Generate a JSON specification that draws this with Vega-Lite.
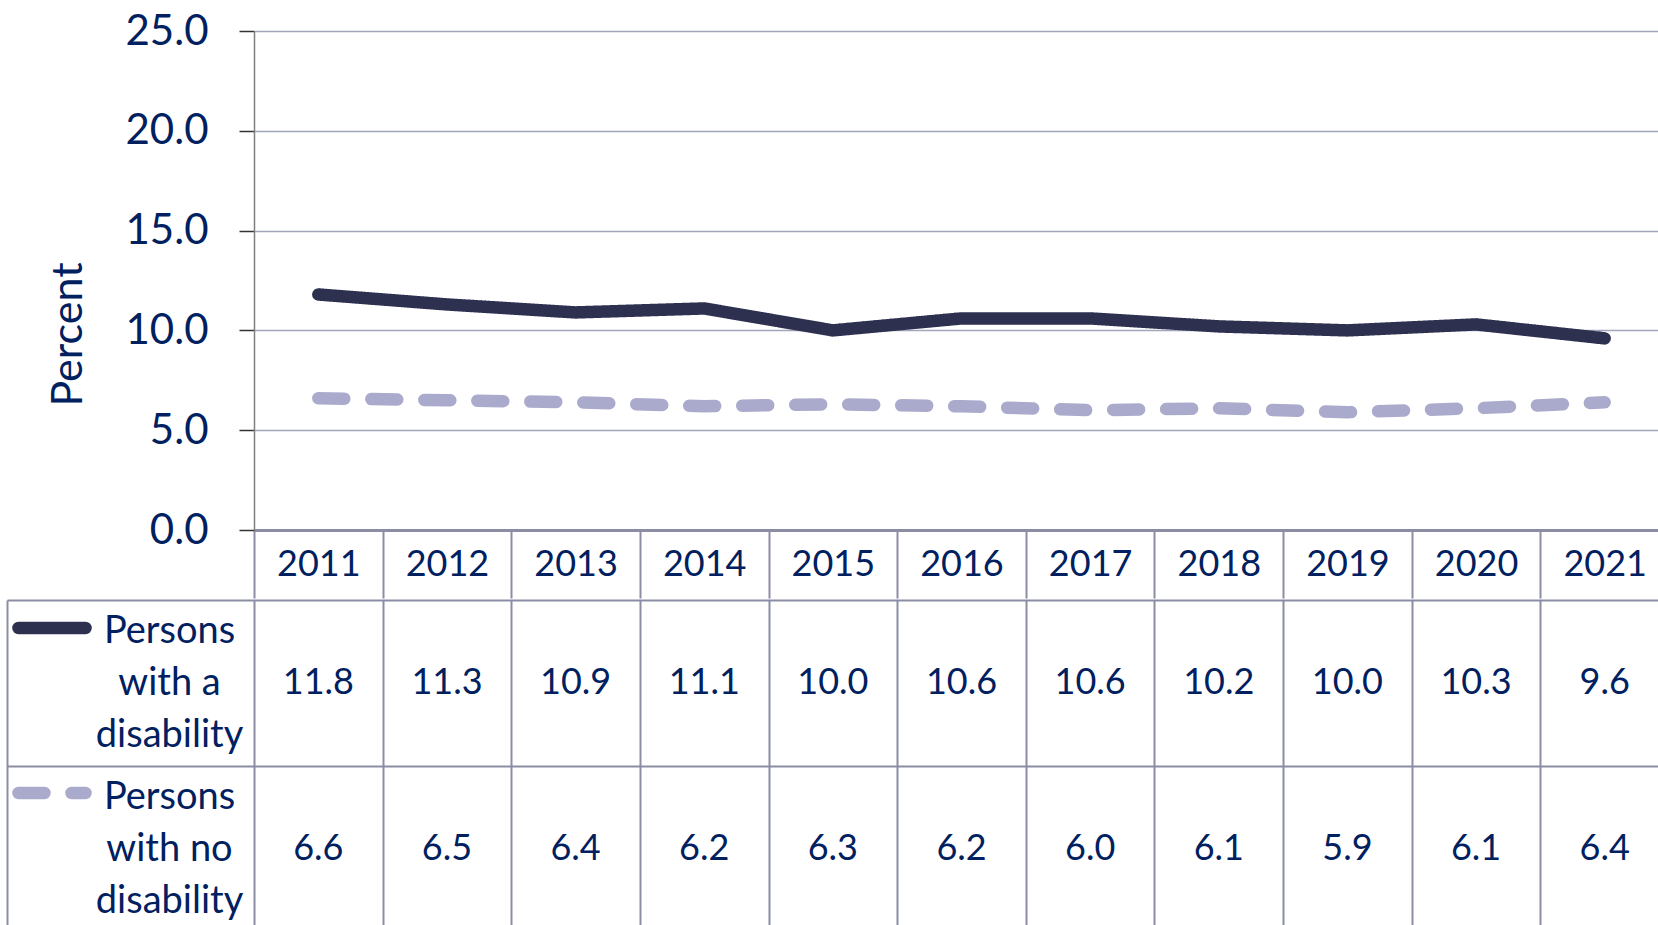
{
  "$schema": "https://vega.github.io/schema/vega-lite/v6.json",
  "padding": {"left": 6, "top": 10, "right": 0, "bottom": 0},
  "background": "white",
  "config": {"view": {"stroke": null}, "font": "Lato"},
  "spacing": 0,
  "datasets": {
    "rates": [
      {"year": 2011, "series": "Persons with a disability", "value": 11.8},
      {"year": 2012, "series": "Persons with a disability", "value": 11.3},
      {"year": 2013, "series": "Persons with a disability", "value": 10.9},
      {"year": 2014, "series": "Persons with a disability", "value": 11.1},
      {"year": 2015, "series": "Persons with a disability", "value": 10.0},
      {"year": 2016, "series": "Persons with a disability", "value": 10.6},
      {"year": 2017, "series": "Persons with a disability", "value": 10.6},
      {"year": 2018, "series": "Persons with a disability", "value": 10.2},
      {"year": 2019, "series": "Persons with a disability", "value": 10.0},
      {"year": 2020, "series": "Persons with a disability", "value": 10.3},
      {"year": 2021, "series": "Persons with a disability", "value": 9.6},
      {"year": 2011, "series": "Persons with no disability", "value": 6.6},
      {"year": 2012, "series": "Persons with no disability", "value": 6.5},
      {"year": 2013, "series": "Persons with no disability", "value": 6.4},
      {"year": 2014, "series": "Persons with no disability", "value": 6.2},
      {"year": 2015, "series": "Persons with no disability", "value": 6.3},
      {"year": 2016, "series": "Persons with no disability", "value": 6.2},
      {"year": 2017, "series": "Persons with no disability", "value": 6.0},
      {"year": 2018, "series": "Persons with no disability", "value": 6.1},
      {"year": 2019, "series": "Persons with no disability", "value": 5.9},
      {"year": 2020, "series": "Persons with no disability", "value": 6.1},
      {"year": 2021, "series": "Persons with no disability", "value": 6.4}
    ]
  },
  "vconcat": [
    {
      "width": 1415,
      "height": 499,
      "data": {"name": "rates"},
      "mark": {"type": "line", "strokeWidth": 12.5, "strokeCap": "round", "strokeJoin": "round"},
      "encoding": {
        "x": {
          "field": "year", "type": "ordinal",
          "scale": {"paddingInner": 0, "paddingOuter": 0},
          "axis": {
            "title": null, "orient": "bottom", "labelAngle": 0,
            "tickBand": "extent", "tickSize": 68, "tickColor": "#8a8da3", "tickWidth": 2,
            "domainColor": "#8a8da3", "domainWidth": 3,
            "labelFont": "Lato", "labelFontSize": 36, "labelColor": "#002060",
            "labelBaseline": "middle", "labelPadding": -34, "grid": false
          }
        },
        "y": {
          "field": "value", "type": "quantitative",
          "scale": {"domain": [0, 25], "nice": false},
          "axis": {
            "values": [0, 5, 10, 15, 20, 25], "format": ".1f",
            "title": "Percent", "titleFont": "Lato", "titleFontSize": 43, "titleFontWeight": "normal",
            "titleColor": "#002060", "titleX": -173, "titleY": 303, "titleAngle": -90,
            "titleAlign": "center", "titleBaseline": "alphabetic",
            "labelFont": "Lato", "labelFontSize": 42, "labelColor": "#002060", "labelPadding": 31,
            "tickSize": 15, "tickColor": "#333333", "tickWidth": 1.5,
            "domainColor": "#808080", "domainWidth": 1.5,
            "grid": true, "gridColor": "#a3a6bb", "gridWidth": 1.5
          }
        },
        "color": {
          "field": "series", "type": "nominal",
          "scale": {"domain": ["Persons with a disability", "Persons with no disability"], "range": ["#2e3050", "#aaaacc"]},
          "legend": {
            "orient": "none", "legendX": -242, "legendY": 557, "title": null,
            "labelExpr": "''", "symbolType": "stroke", "symbolSize": 4500, "symbolStrokeWidth": 12.5,
            "rowPadding": 100, "padding": 0,
            "encoding": {"symbols": {"strokeCap": {"value": "round"}}}
          }
        },
        "strokeDash": {
          "field": "series", "type": "nominal",
          "scale": {"domain": ["Persons with a disability", "Persons with no disability"], "range": [[1, 0], [26, 27]]},
          "legend": {
            "orient": "none", "legendX": -242, "legendY": 557, "title": null,
            "labelExpr": "''", "symbolType": "stroke", "symbolSize": 4500, "symbolStrokeWidth": 12.5,
            "rowPadding": 100, "padding": 0,
            "encoding": {"symbols": {"strokeCap": {"value": "round"}}}
          }
        }
      }
    },
    {
      "width": 1415,
      "height": 332,
      "data": {"name": "rates"},
      "mark": {"type": "text", "font": "Lato", "fontSize": 36, "color": "#002060"},
      "encoding": {
        "x": {
          "field": "year", "type": "ordinal",
          "scale": {"paddingInner": 0, "paddingOuter": 0},
          "axis": {
            "title": null, "labels": false, "ticks": false, "domain": false,
            "grid": true, "tickBand": "extent", "gridColor": "#8a8da3", "gridWidth": 2
          }
        },
        "y": {
          "field": "series", "type": "nominal",
          "sort": ["Persons with a disability", "Persons with no disability"],
          "scale": {"paddingInner": 0, "paddingOuter": 0},
          "axis": {
            "title": null, "orient": "left", "offset": 247,
            "domain": true, "domainColor": "#8a8da3", "domainWidth": 2,
            "ticks": true, "tickBand": "extent", "tickSize": -247, "tickColor": "#8a8da3", "tickWidth": 2,
            "grid": true, "gridColor": "#8a8da3", "gridWidth": 2,
            "labelExpr": "datum.value == 'Persons with a disability' ? ['Persons', 'with a', 'disability'] : datum.value == 'Persons with no disability' ? ['Persons', 'with no', 'disability'] : ''",
            "labelAlign": "center", "labelBaseline": "middle", "labelPadding": 85, "labelOffset": -52,
            "labelFont": "Lato",
            "labelFontSize": {"condition": {"test": "datum.value == 'Persons with a disability' || datum.value == 'Persons with no disability'", "value": 38}, "value": 0},
            "labelColor": "#002060", "labelLineHeight": 52
          }
        },
        "text": {"field": "value", "type": "quantitative", "format": ".1f"}
      }
    }
  ]
}
